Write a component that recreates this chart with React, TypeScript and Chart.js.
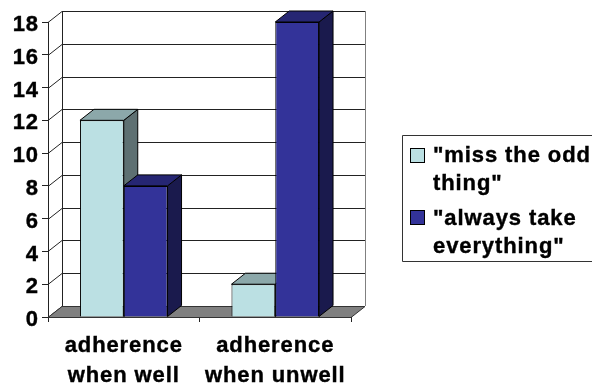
import React, { useEffect, useRef } from "react";
import { Chart, registerables } from "chart.js";

Chart.register(...registerables);

const categories = [["adherence", "when well"], ["adherence", "when unwell"]];
const seriesNames = ['"miss the odd thing"', '"always take everything"'];
const legendLines = [['"miss the odd', "thing\""], ['"always take', 'everything"']];
const missOddThing = [12, 2];
const alwaysTake = [8, 18];

const FONT = '"Liberation Sans", Arial, sans-serif';
const DEPTH_X = 14;
const DEPTH_Y = 11;
const TEXT_STROKE = 0.4;
const faces = [
  { front: "#BBE0E3", top: "#8CA8AA", side: "#5E7072" },
  { front: "#333399", top: "#262673", side: "#1A1A4D" },
];

function poly(ctx: CanvasRenderingContext2D, pts: number[][], fill: string | null, stroke: string) {
  ctx.beginPath();
  pts.forEach(([x, y], i) => (i ? ctx.lineTo(x, y) : ctx.moveTo(x, y)));
  ctx.closePath();
  if (fill) {
    ctx.fillStyle = fill;
    ctx.fill();
  }
  ctx.strokeStyle = stroke;
  ctx.lineWidth = 1;
  ctx.stroke();
}

// All text on this chart is slightly tracked out
const trackingPlugin = {
  id: "tracking",
  beforeDraw(chart: any) {
    chart.ctx.letterSpacing = "0.9px";
  },
};

// Back wall, side wall, floor and the extruded faces behind each bar
const depthPlugin = {
  id: "depth",
  beforeDatasetsDraw(chart: any) {
    const { ctx, chartArea: a, scales } = chart;
    const y = scales.y;
    ctx.save();
    ctx.lineWidth = 1;
    for (const t of y.ticks) {
      const py = Math.round(y.getPixelForValue(t.value)) + 0.5;
      ctx.strokeStyle = "#222";
      ctx.beginPath();
      ctx.moveTo(a.left, py);
      ctx.lineTo(a.left + DEPTH_X, py - DEPTH_Y);
      if (t.value > 0) ctx.lineTo(a.right + DEPTH_X, py - DEPTH_Y);
      ctx.stroke();
    }
    ctx.strokeStyle = "#222";
    ctx.beginPath();
    ctx.moveTo(a.left + DEPTH_X + 0.5, a.top - DEPTH_Y);
    ctx.lineTo(a.left + DEPTH_X + 0.5, a.bottom - DEPTH_Y);
    ctx.stroke();
    ctx.strokeStyle = "#808080";
    ctx.beginPath();
    ctx.moveTo(a.right + DEPTH_X + 0.5, a.top - DEPTH_Y);
    ctx.lineTo(a.right + DEPTH_X + 0.5, a.bottom - DEPTH_Y);
    ctx.stroke();
    poly(
      ctx,
      [
        [a.left, a.bottom + 0.5],
        [a.right, a.bottom + 0.5],
        [a.right + DEPTH_X, a.bottom - DEPTH_Y + 0.5],
        [a.left + DEPTH_X, a.bottom - DEPTH_Y + 0.5],
      ],
      "#808080",
      "#333"
    );
    chart.data.datasets.forEach((_: any, di: number) => {
      chart.getDatasetMeta(di).data.forEach((bar: any) => {
        const half = bar.width / 2;
        const l = bar.x - half;
        const r = bar.x + half;
        const t = bar.y;
        const b = bar.base;
        poly(ctx, [[r, t], [r + DEPTH_X, t - DEPTH_Y], [r + DEPTH_X, b - DEPTH_Y], [r, b]], faces[di].side, "#000");
        poly(ctx, [[l, t], [r, t], [r + DEPTH_X, t - DEPTH_Y], [l + DEPTH_X, t - DEPTH_Y]], faces[di].top, "#000");
      });
    });
    ctx.restore();
  },
};

// Boxed key with wrapped entries, running off the right edge of the canvas
const keyPlugin = {
  id: "key",
  afterDraw(chart: any) {
    const { ctx, width } = chart;
    ctx.save();
    ctx.strokeStyle = "#333";
    ctx.lineWidth = 1;
    ctx.beginPath();
    ctx.moveTo(width + 2, 135.5);
    ctx.lineTo(402.5, 135.5);
    ctx.lineTo(402.5, 261.5);
    ctx.lineTo(width + 2, 261.5);
    ctx.stroke();
    ctx.font = `bold 22px ${FONT}`;
    ctx.textBaseline = "middle";
    ctx.textAlign = "left";
    const rows = [
      { swatch: 148, lines: [156, 184] },
      { swatch: 210, lines: [219, 247] },
    ];
    rows.forEach((row, i) => {
      ctx.fillStyle = faces[i].front;
      ctx.fillRect(410.5, row.swatch + 0.5, 14, 14);
      ctx.strokeStyle = "#000";
      ctx.lineWidth = 1;
      ctx.strokeRect(410.5, row.swatch + 0.5, 14, 14);
      ctx.fillStyle = "#000";
      ctx.lineWidth = TEXT_STROKE;
      legendLines[i].forEach((text, j) => {
        ctx.strokeText(text, 433, row.lines[j]);
        ctx.fillText(text, 433, row.lines[j]);
      });
    });
    ctx.restore();
  },
};

export default function App() {
  const ref = useRef<HTMLCanvasElement>(null);
  useEffect(() => {
    const chart = new Chart(ref.current!, {
      type: "bar",
      data: {
        labels: categories as any,
        datasets: [
          { label: seriesNames[0], data: missOddThing, backgroundColor: faces[0].front },
          { label: seriesNames[1], data: alwaysTake, backgroundColor: faces[1].front },
        ].map((d) => ({ ...d, borderColor: "#000", borderWidth: 1, barPercentage: 1, categoryPercentage: 0.578 })),
      },
      options: {
        responsive: false,
        animation: false,
        layout: { padding: { left: 0, top: 22, right: 241, bottom: 0 } },
        plugins: { legend: { display: false }, tooltip: { enabled: false } },
        scales: {
          x: {
            afterFit: (s: any) => { s.height = 68; },
            grid: { drawOnChartArea: false, tickLength: 5, color: "#222" },
            border: { color: "#000" },
            ticks: {
              color: "#000",
              padding: 9,
              maxRotation: 0,
              autoSkip: false,
              textStrokeColor: "#000",
              textStrokeWidth: TEXT_STROKE,
              font: { family: FONT, weight: "bold", size: 22, lineHeight: 1.364 },
            },
          },
          y: {
            min: 0,
            max: 18,
            afterFit: (s: any) => { s.width = 48; },
            grid: { drawOnChartArea: false, tickLength: 6, color: "#222" },
            border: { color: "#222" },
            ticks: {
              stepSize: 2,
              color: "#000",
              padding: 3,
              autoSkip: false,
              textStrokeColor: "#000",
              textStrokeWidth: TEXT_STROKE,
              // an empty first line nudges the number just below its tick
              callback: (v: any) => ["", String(v)],
              font: { family: FONT, weight: "bold", size: 22, lineHeight: "6px" },
            },
          },
        },
      },
      plugins: [trackingPlugin, depthPlugin, keyPlugin],
    });
    return () => chart.destroy();
  }, []);
  return (
    <div style={{ position: "fixed", left: 0, top: 0, width: 592, height: 385, background: "#fff" }}>
      <canvas ref={ref} width={592} height={385} style={{ display: "block" }} />
    </div>
  );
}
